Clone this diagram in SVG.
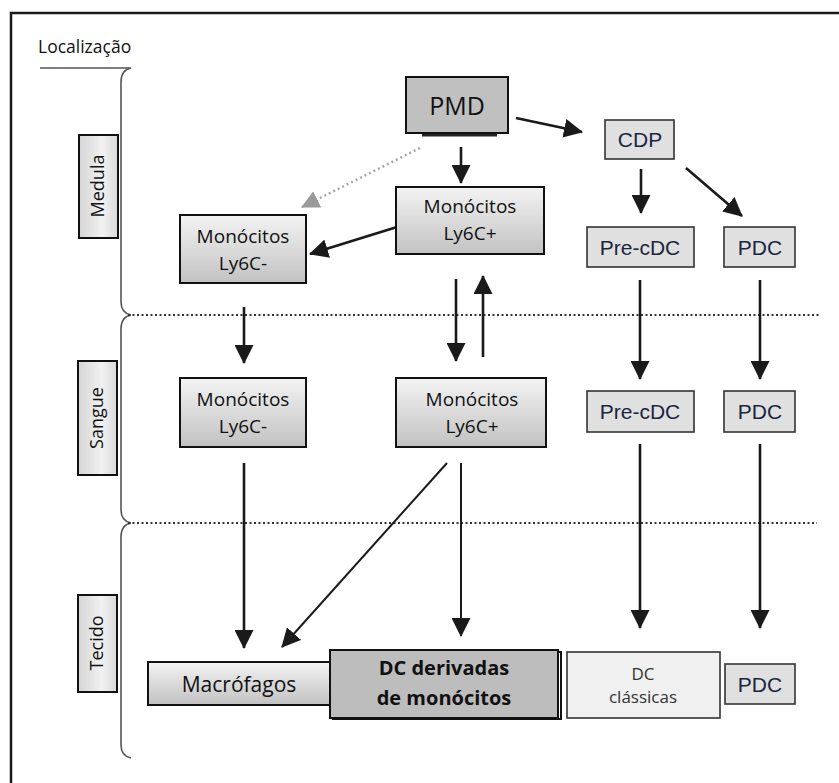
<svg xmlns="http://www.w3.org/2000/svg" width="839" height="783" viewBox="0 0 839 783">
<style>
.cal{font-family:"Open Sans","Noto Sans",sans-serif;fill:#111;text-anchor:middle}
.ar{font-family:"Liberation Sans",Arial,sans-serif;fill:#1c2540;text-anchor:middle;font-size:21px}
.box{stroke:#111;stroke-width:2;fill:url(#gv)}
.lbox{stroke:#111;stroke-width:2;fill:url(#gh)}
.sbox{stroke:#333;stroke-width:1.6;fill:#e0e0e0}
.ln{stroke:#1a1a1a;stroke-width:2.6;fill:none}
.thin{stroke:#1a1a1a;stroke-width:2;fill:none}
.brace{stroke:#555;stroke-width:1.6;fill:none}
.dot{stroke:#333;stroke-width:2;stroke-dasharray:2 2.5;fill:none}
</style>
<defs>
<linearGradient id="gv" x1="0" y1="0" x2="0" y2="1"><stop offset="0" stop-color="#f3f3f3"/><stop offset="1" stop-color="#c2c2c2"/></linearGradient>
<linearGradient id="gh" x1="0" y1="0" x2="1" y2="0"><stop offset="0" stop-color="#d4d4d4"/><stop offset="0.6" stop-color="#f2f2f2"/><stop offset="1" stop-color="#d8d8d8"/></linearGradient>
<marker id="ah" markerUnits="userSpaceOnUse" markerWidth="19" markerHeight="19" refX="18" refY="9.5" orient="auto"><path d="M0,0 L19,9.5 L0,19 z" fill="#1a1a1a"/></marker>
<marker id="ahg" markerUnits="userSpaceOnUse" markerWidth="18" markerHeight="18" refX="17" refY="9" orient="auto"><path d="M0,0 L18,9 L0,18 z" fill="#9a9a9a"/></marker>
</defs>
<rect x="11" y="13" width="840" height="800" fill="none" stroke="#1a1a1a" stroke-width="2.5"/>
<g id="loc">
<text x="38" y="53" class="cal" style="text-anchor:start;font-size:17.5px">Localização</text>
<line x1="40" y1="68" x2="130" y2="68" stroke="#555" stroke-width="1.6"/>
</g>
<g id="braces">
<path class="brace" d="M131,68 Q121,70 121,82 L121,302 Q121,313 131,315"/>
<path class="brace" d="M131,315 Q121,317 121,329 L121,510 Q121,521 131,523"/>
<path class="brace" d="M131,523 Q121,525 121,537 L121,745 Q121,756 131,758"/>
</g>
<g id="dividers">
<line class="dot" x1="128" y1="315" x2="820" y2="315"/>
<line class="dot" x1="128" y1="523" x2="817" y2="523"/>
</g>
<g id="medula"><rect class="lbox" x="79" y="135" width="39" height="103"/><text class="cal" transform="translate(104,186) rotate(-90)" style="font-size:18px">Medula</text></g>
<g id="sangue"><rect class="lbox" x="78" y="361" width="39" height="114"/><text class="cal" transform="translate(103,418) rotate(-90)" style="font-size:18px">Sangue</text></g>
<g id="tecido"><rect class="lbox" x="78" y="595" width="39" height="97"/><text class="cal" transform="translate(103,643) rotate(-90)" style="font-size:18px">Tecido</text></g>
<g id="connectors">
<line class="ln" x1="516" y1="118" x2="582" y2="132" marker-end="url(#ah)"/>
<line class="ln" x1="461" y1="147" x2="461" y2="183" marker-end="url(#ah)"/>
<line x1="420" y1="148" x2="302" y2="207" stroke="#a8a8a8" stroke-width="2.5" stroke-dasharray="2 3" marker-end="url(#ahg)"/>
<line class="ln" x1="397" y1="227" x2="310" y2="254" marker-end="url(#ah)"/>
<line class="ln" x1="641" y1="169" x2="641" y2="213" marker-end="url(#ah)"/>
<line class="ln" x1="686" y1="168" x2="742" y2="216" marker-end="url(#ah)"/>
<line class="ln" x1="244" y1="307" x2="244" y2="363" marker-end="url(#ah)"/>
<line class="ln" x1="456" y1="279" x2="456" y2="361" marker-end="url(#ah)"/>
<line class="ln" x1="483" y1="357" x2="483" y2="276" marker-end="url(#ah)"/>
<line class="ln" x1="640" y1="280" x2="640" y2="379" marker-end="url(#ah)"/>
<line class="ln" x1="760" y1="280" x2="760" y2="379" marker-end="url(#ah)"/>
<line class="ln" x1="244" y1="463" x2="244" y2="648" marker-end="url(#ah)"/>
<line class="thin" x1="447" y1="463" x2="282" y2="647" marker-end="url(#ah)"/>
<line class="thin" x1="461" y1="463" x2="461" y2="636" marker-end="url(#ah)"/>
<line class="ln" x1="640" y1="444" x2="640" y2="628" marker-end="url(#ah)"/>
<line class="ln" x1="760" y1="444" x2="760" y2="628" marker-end="url(#ah)"/>
</g>
<g id="pmd">
<line x1="422" y1="135" x2="497" y2="135" stroke="#222" stroke-width="3"/>
<rect x="406" y="77" width="102" height="56" fill="#c0c0c0" stroke="#111" stroke-width="2"/>
<text x="457" y="115" class="cal" style="font-size:25px">PMD</text>
</g>
<g id="cdp"><rect class="sbox" x="605" y="120" width="69" height="39"/><text x="640" y="147" class="ar">CDP</text></g>
<g id="ly6cplus-m"><rect class="box" x="396" y="187" width="148" height="67"/><text x="470" y="213" class="cal" style="font-size:19px">Monócitos</text><text x="470" y="240" class="cal" style="font-size:19px">Ly6C+</text></g>
<g id="ly6cminus-m"><rect class="box" x="180" y="215" width="126" height="68"/><text x="243" y="243" class="cal" style="font-size:19px">Monócitos</text><text x="243" y="270" class="cal" style="font-size:19px">Ly6C-</text></g>
<g id="precdc-m"><rect class="sbox" x="587" y="227" width="107" height="40"/><text x="640" y="255" class="ar">Pre-cDC</text></g>
<g id="pdc-m"><rect class="sbox" x="724" y="227" width="71" height="40"/><text x="760" y="255" class="ar">PDC</text></g>
<g id="ly6cminus-s"><rect class="box" x="180" y="378" width="126" height="69"/><text x="243" y="406" class="cal" style="font-size:19px">Monócitos</text><text x="243" y="433" class="cal" style="font-size:19px">Ly6C-</text></g>
<g id="ly6cplus-s"><rect class="box" x="396" y="378" width="150" height="69"/><text x="472" y="406" class="cal" style="font-size:19px">Monócitos</text><text x="472" y="433" class="cal" style="font-size:19px">Ly6C+</text></g>
<g id="precdc-s"><rect class="sbox" x="587" y="391" width="107" height="41"/><text x="640" y="419" class="ar">Pre-cDC</text></g>
<g id="pdc-s"><rect class="sbox" x="724" y="391" width="71" height="41"/><text x="760" y="419" class="ar">PDC</text></g>
<g id="macrofagos"><rect class="box" x="148" y="662" width="182" height="43"/><text x="239" y="692" class="cal" style="font-size:21px">Macrófagos</text></g>
<g id="dc-derivadas">
<rect x="333" y="652" width="228" height="67" fill="none" stroke="#111" stroke-width="2"/>
<rect x="330" y="650" width="228" height="68" fill="#bdbdbd" stroke="#111" stroke-width="2"/>
<text x="444" y="675" class="cal" style="font-size:20px;font-weight:bold">DC derivadas</text>
<text x="444" y="705" class="cal" style="font-size:20px;font-weight:bold">de monócitos</text>
</g>
<g id="dc-classicas"><rect x="567" y="652" width="153" height="66" fill="#f0f0f0" stroke="#333" stroke-width="1.6"/><text x="643" y="680" class="cal" style="font-size:17px;fill:#333">DC</text><text x="643" y="703" class="cal" style="font-size:17px;fill:#333">clássicas</text></g>
<g id="pdc-t"><rect class="sbox" x="725" y="664" width="70" height="40"/><text x="760" y="692" class="ar">PDC</text></g>
</svg>
